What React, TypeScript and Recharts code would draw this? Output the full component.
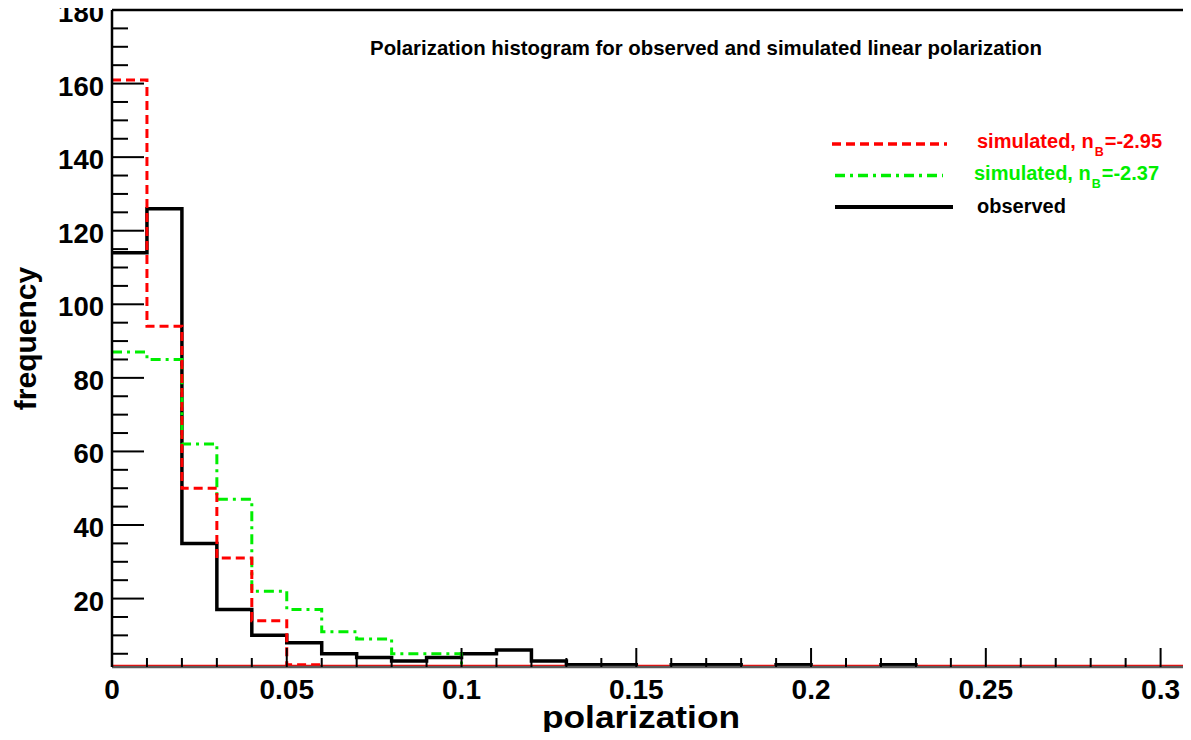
import { LineChart, Line, XAxis, YAxis, ReferenceLine, Legend } from "recharts";

// bin edges of the 0.01-wide polarization bins
const BIN_EDGES = [
  0, 0.01, 0.02, 0.03, 0.04, 0.05, 0.06, 0.07, 0.08, 0.09, 0.1, 0.11, 0.12, 0.13, 0.14, 0.15,
  0.16, 0.17, 0.18, 0.19, 0.2, 0.21, 0.22, 0.23, 0.24, 0.25, 0.26, 0.27, 0.28, 0.29, 0.3, 0.31,
];

// counts per bin (31 bins)
const OBSERVED = [114, 126, 35, 17, 10, 8, 5, 4, 3, 4, 5, 6, 3, 2, 2, 0, 2, 2, 0, 2, 0, 0, 2, 0, 0, 0, 0, 0, 0, 0, 0];
const SIM_295 = [161, 94, 50, 31, 14, 2, 0, 0, 0, 0, 0, 0, 0, 0, 0, 0, 0, 0, 0, 0, 0, 0, 0, 0, 0, 0, 0, 0, 0, 0, 0];
const SIM_237 = [87, 85, 62, 47, 22, 17, 11, 9, 5, 5, 0, 0, 0, 0, 0, 0, 0, 0, 0, 0, 0, 0, 0, 0, 0, 0, 0, 0, 0, 0, 0];

const X_MAJOR = [0, 0.05, 0.1, 0.15, 0.2, 0.25, 0.3];
const X_LABELS = ["0", "0.05", "0.1", "0.15", "0.2", "0.25", "0.3"];
const Y_MAJOR = [20, 40, 60, 80, 100, 120, 140, 160, 180];
const Y_TICKS = Y_MAJOR.flatMap((v) => [v - 15, v - 10, v - 5, v]);
const X_TICKS = BIN_EDGES.slice(0, 31);

const Y_MIN = 1.4;
const Y_MAX = 180;
const X_MAX = 0.3087;
const RED_FLOOR = 1.8;

const TITLE = "Polarization histogram for observed and simulated linear polarization";
const LEGEND = [
  { label: "simulated, n", sub: "B", rest: "=-2.95", color: "#ff0000", dash: "9 5" },
  { label: "simulated, n", sub: "B", rest: "=-2.37", color: "#00ee00", dash: "10 5 3 5" },
  { label: "observed", sub: "", rest: "", color: "#000000", dash: "" },
];

const FONT = '"Liberation Sans", Arial, Helvetica, sans-serif';

const data = BIN_EDGES.map((x, i) => {
  const b = Math.min(i, OBSERVED.length - 1);
  return { x, obs: OBSERVED[b], sim295: SIM_295[b], sim237: SIM_237[b] };
});

function XTick(props: any) {
  const { x, y, payload } = props;
  const v = payload.value as number;
  const idx = X_MAJOR.findIndex((m) => Math.abs(m - v) < 1e-9);
  const major = idx >= 0;
  return (
    <g>
      <line x1={x} x2={x} y1={y} y2={y - (major ? 19 : 9)} stroke="#000" strokeWidth={2} />
      {major && (
        <text x={x} y={y + 32} textAnchor="middle" fontFamily={FONT} fontWeight="bold" fontSize={28} fill="#000">
          {X_LABELS[idx]}
        </text>
      )}
    </g>
  );
}

function YTick(props: any) {
  const { x, y, payload } = props;
  const v = payload.value as number;
  const major = v % 20 === 0;
  const axisX = x + 8;
  return (
    <g>
      <line x1={axisX} x2={axisX + (major ? 32 : 16)} y1={y} y2={y} stroke="#000" strokeWidth={2} />
      {major && (
        <text x={x} y={y + 12} textAnchor="end" fontFamily={FONT} fontWeight="bold" fontSize={27.5} fill="#000">
          {v}
        </text>
      )}
    </g>
  );
}

function LegendBox() {
  return (
    <svg width={380} height={110} style={{ display: "block" }}>
      {LEGEND.map((item, i) => {
        const cy = 24 + i * 31.5;
        return (
          <g key={i}>
            <line
              x1={i === 0 ? 12 : 15}
              x2={i === 2 ? 133 : i === 0 ? 127 : 123}
              y1={cy}
              y2={cy}
              stroke={item.color}
              strokeWidth={i === 2 ? 4 : 3.5}
              strokeDasharray={item.dash || undefined}
            />
            <text
              x={i === 1 ? 154 : 157}
              y={cy + (i === 2 ? 6 : 4)}
              fontFamily={FONT}
              fontWeight="bold"
              fontSize={20}
              fill={item.color}
            >
              {item.label}
              {item.sub && (
                <tspan fontSize={12.5} dx={1} dy={8}>
                  {item.sub}
                </tspan>
              )}
              {item.rest && (
                <tspan dx={1} dy={-8}>
                  {item.rest}
                </tspan>
              )}
            </text>
          </g>
        );
      })}
    </svg>
  );
}

export default function App() {
  return (
    <div style={{ position: "relative", width: 1191, height: 740, margin: -8, background: "#fff", overflow: "hidden" }}>
      <LineChart width={1191} height={740} data={data} margin={{ top: 10, right: 0, bottom: 0, left: 0 }}>
        <XAxis
          dataKey="x"
          type="number"
          domain={[0, X_MAX]}
          allowDataOverflow
          ticks={X_TICKS}
          interval={0}
          tickLine={false}
          tickSize={0}
          tickMargin={0}
          tick={<XTick />}
          height={73}
          axisLine={{ stroke: "#5a5a5a", strokeWidth: 2.5 }}
          label={{
            content: (p: any) => {
              const vb = p.viewBox;
              return (
                <text
                  x={vb.x + 529}
                  y={vb.y + 61}
                  textAnchor="middle"
                  fontFamily={FONT}
                  fontWeight="bold"
                  fontSize={31}
                  textLength={198}
                  lengthAdjust="spacingAndGlyphs"
                  fill="#000"
                >
                  polarization
                </text>
              );
            },
          }}
        />
        <YAxis
          type="number"
          domain={[Y_MIN, Y_MAX]}
          allowDataOverflow
          ticks={Y_TICKS}
          interval={0}
          tickLine={false}
          tickSize={0}
          tickMargin={8}
          tick={<YTick />}
          width={112}
          axisLine={{ stroke: "#000", strokeWidth: 2.5 }}
          label={{
            content: (p: any) => {
              const vb = p.viewBox;
              const cx = vb.x + 36;
              const cy = vb.y + vb.height / 2;
              return (
                <text
                  x={cx}
                  y={cy}
                  transform={`rotate(-90 ${cx} ${cy})`}
                  textAnchor="middle"
                  fontFamily={FONT}
                  fontWeight="bold"
                  fontSize={30}
                  fill="#000"
                >
                  frequency
                </text>
              );
            },
          }}
        />
        <ReferenceLine y={Y_MAX} stroke="#000" strokeWidth={2.5} />
        <ReferenceLine y={RED_FLOOR} stroke="#ff0000" strokeWidth={1.5} />
        <Line
          dataKey="obs"
          type="stepAfter"
          stroke="#000"
          strokeWidth={3.5}
          dot={false}
          activeDot={false}
          isAnimationActive={false}
        />
        <Line
          dataKey="sim237"
          type="stepAfter"
          stroke="#00ee00"
          strokeWidth={3}
          strokeDasharray="10 5 3 5"
          dot={false}
          activeDot={false}
          isAnimationActive={false}
        />
        <Line
          dataKey="sim295"
          type="stepAfter"
          stroke="#ff0000"
          strokeWidth={3}
          strokeDasharray="9 5"
          dot={false}
          activeDot={false}
          isAnimationActive={false}
        />
        <Legend
          layout="vertical"
          align="center"
          verticalAlign="middle"
          content={() => <LegendBox />}
          wrapperStyle={{ position: "absolute", left: 820, top: 120, width: 380, height: 110 }}
        />
      </LineChart>
      <div
        style={{
          position: "absolute",
          left: 706,
          top: 36,
          transform: "translateX(-50%)",
          whiteSpace: "nowrap",
          fontFamily: FONT,
          fontWeight: "bold",
          fontSize: 20.4,
          lineHeight: "24px",
          color: "#000",
        }}
      >
        {TITLE}
      </div>
    </div>
  );
}
